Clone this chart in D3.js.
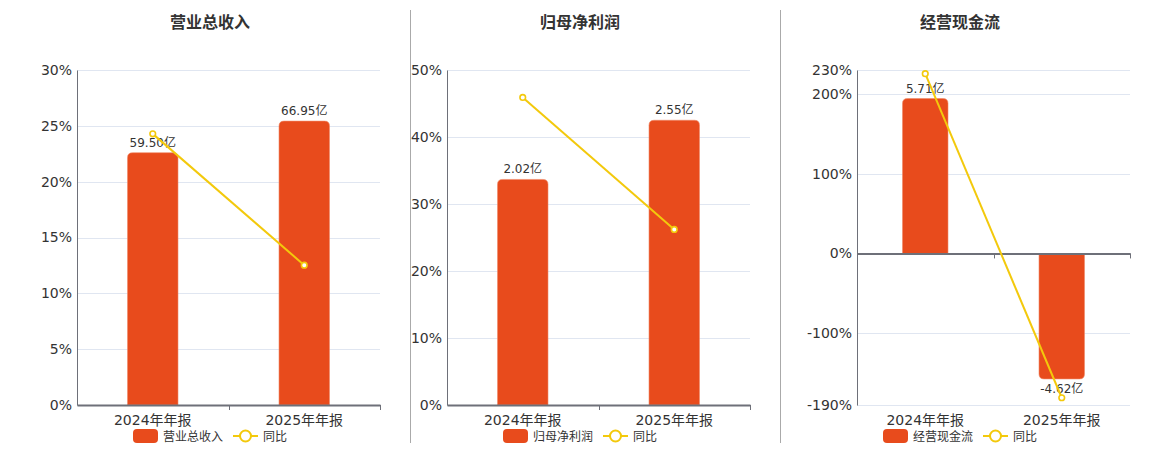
<!DOCTYPE html>
<html>
<head>
<meta charset="utf-8">
<script src="https://cdn.jsdelivr.net/npm/d3@7"></script>
<style>
  body { margin: 0; background: #fff; }
  svg { display: block; font-family: "DejaVu Sans", "Noto Sans CJK SC", sans-serif; }
</style>
</head>
<body>
<svg id="chart" width="1160" height="450"></svg>
<script>
var periods = ["2024年年报", "2025年年报"];

var titles = ["营业总收入", "归母净利润", "经营现金流"];

var revenue = [59.50, 66.95];
var revenueYoy = [24.28, 12.52];

var netProfit = [2.02, 2.55];
var netProfitYoy = [45.9, 26.2];

var cashFlow = [5.71, -4.62];
var cashFlowYoy = [225.4, -180.9];

var revenueTicks = [0, 5, 10, 15, 20, 25, 30];
var netProfitTicks = [0, 10, 20, 30, 40, 50];
var cashFlowTicks = [-190, -100, 0, 100, 200, 230];

var barColor = "#e84b1c";
var lineColor = "#f3c90c";
var gridColor = "#e0e6f1";
var axisColor = "#6e7079";
var textColor = "#333";

var svg = d3.select("#chart");

// panel layout: plot box, centre of title/legend, hidden bar axis domain
var panels = [
  {title: titles[0], bars: revenue, yoy: revenueYoy, ticks: revenueTicks,
   left: 77, right: 380, mid: 210, barDomain: [0, 79]},
  {title: titles[1], bars: netProfit, yoy: netProfitYoy, ticks: netProfitTicks,
   left: 447, right: 750, mid: 580, barDomain: [0, 3]},
  {title: titles[2], bars: cashFlow, yoy: cashFlowYoy, ticks: cashFlowTicks,
   left: 857, right: 1130, mid: 960, barDomain: [-5.58, 6.76]}
];
var plotTop = 70, plotBottom = 405;

// dividers between the panels
[410.5, 780.5].forEach(function(x) {
  svg.append("line")
    .attr("x1", x).attr("x2", x).attr("y1", 10).attr("y2", 443)
    .style("stroke", "#aaa").style("stroke-width", 1);
});

function barPath(x0, w, y0, y1, r) {
  // rounded corners at the value end only
  var up = y1 < y0;
  var h = Math.abs(y1 - y0);
  r = Math.min(r, h, w / 2);
  if (up) {
    return "M" + x0 + "," + y0 + "V" + (y1 + r) +
      "Q" + x0 + "," + y1 + " " + (x0 + r) + "," + y1 +
      "H" + (x0 + w - r) +
      "Q" + (x0 + w) + "," + y1 + " " + (x0 + w) + "," + (y1 + r) +
      "V" + y0 + "Z";
  }
  return "M" + x0 + "," + y0 + "V" + (y1 - r) +
    "Q" + x0 + "," + y1 + " " + (x0 + r) + "," + y1 +
    "H" + (x0 + w - r) +
    "Q" + (x0 + w) + "," + y1 + " " + (x0 + w) + "," + (y1 - r) +
    "V" + y0 + "Z";
}

panels.forEach(function(p) {
  var g = svg.append("g");

  var x = d3.scaleBand().domain(periods).range([p.left, p.right]);
  var yPct = d3.scaleLinear()
    .domain([d3.min(p.ticks), d3.max(p.ticks)])
    .range([plotBottom, plotTop]);
  var yBar = d3.scaleLinear().domain(p.barDomain).range([plotBottom, plotTop]);

  var minT = d3.min(p.ticks);
  var zeroY = minT < 0 ? yPct(0) : plotBottom;

  g.append("text")
    .attr("x", p.mid).attr("y", 28)
    .attr("text-anchor", "middle")
    .style("font-size", "16px").style("font-weight", "bold")
    .style("fill", textColor)
    .text(p.title);

  // grid lines
  g.selectAll(".grid").data(p.ticks).enter().append("line")
    .attr("x1", p.left).attr("x2", p.right)
    .attr("y1", function(d) { return Math.round(yPct(d)) + 0.5; })
    .attr("y2", function(d) { return Math.round(yPct(d)) + 0.5; })
    .style("stroke", gridColor).style("stroke-width", 1);

  // y axis
  var yAxis = d3.axisLeft(yPct).tickValues(p.ticks)
    .tickFormat(function(d) { return d + "%"; })
    .tickSize(0).tickPadding(5);
  var ya = g.append("g").attr("transform", "translate(" + p.left + ",0)").call(yAxis);
  ya.select(".domain").style("stroke", axisColor);
  ya.selectAll("text").style("font-size", "14px").style("fill", textColor)
    .style("font-family", "DejaVu Sans, Noto Sans CJK SC");

  // bars
  var bw = x.bandwidth() / 3;
  g.selectAll(".bar").data(p.bars).enter().append("path")
    .attr("d", function(d, i) {
      var cx = x(periods[i]) + x.bandwidth() / 2;
      return barPath(cx - bw / 2, bw, yBar(0), yBar(d), 5);
    })
    .style("fill", barColor)
    .style("stroke", "#f08a68").style("stroke-width", 0.6);

  // bar labels
  g.selectAll(".lbl").data(p.bars).enter().append("text")
    .attr("x", function(d, i) { return x(periods[i]) + x.bandwidth() / 2; })
    .attr("y", function(d) { return d >= 0 ? yBar(d) - 6 : yBar(d) + 14; })
    .attr("text-anchor", "middle")
    .style("font-size", "12px").style("fill", textColor)
    .text(function(d) { return d.toFixed(2) + "亿"; });

  // x axis
  var xAxis = d3.axisBottom(x).tickSize(0).tickPadding(0).tickFormat("");
  var xa = g.append("g").attr("transform", "translate(0," + zeroY + ")").call(xAxis);
  xa.select(".domain").style("stroke", axisColor).style("stroke-width", 2);
  xa.selectAll(".tick").remove();
  // ticks at band boundaries
  var edges = periods.map(function(c) { return x(c); }).concat([p.right]).slice(1);
  g.selectAll(".xt").data(edges).enter().append("line")
    .attr("x1", function(d) { return Math.round(d) + 0.5; })
    .attr("x2", function(d) { return Math.round(d) + 0.5; })
    .attr("y1", zeroY).attr("y2", zeroY + 5)
    .style("stroke", axisColor);

  g.selectAll(".xl").data(periods).enter().append("text")
    .attr("x", function(d) { return x(d) + x.bandwidth() / 2; })
    .attr("y", 425)
    .attr("text-anchor", "middle")
    .style("font-size", "14px").style("fill", textColor)
    .text(function(d) { return d; });

  // yoy line
  var line = d3.line()
    .x(function(d, i) { return x(periods[i]) + x.bandwidth() / 2; })
    .y(function(d) { return yPct(d); });
  g.append("path").datum(p.yoy)
    .attr("d", line)
    .style("fill", "none").style("stroke", lineColor).style("stroke-width", 2);
  g.selectAll(".pt").data(p.yoy).enter().append("circle")
    .attr("cx", function(d, i) { return x(periods[i]) + x.bandwidth() / 2; })
    .attr("cy", function(d) { return yPct(d); })
    .attr("r", 2.8)
    .style("fill", "#fff").style("stroke", lineColor).style("stroke-width", 1.6);

  // legend
  var lg = g.append("g").attr("transform", "translate(" + (p.mid - 77) + ",436)");
  lg.append("rect")
    .attr("x", 0).attr("y", -7).attr("width", 25).attr("height", 14).attr("rx", 4)
    .style("fill", barColor);
  lg.append("text")
    .attr("x", 30).attr("y", 4.5)
    .style("font-size", "12px").style("fill", textColor)
    .text(p.title);
  lg.append("line")
    .attr("x1", 100).attr("x2", 125).attr("y1", 0).attr("y2", 0)
    .style("stroke", lineColor).style("stroke-width", 2);
  lg.append("circle")
    .attr("cx", 112.5).attr("cy", 0).attr("r", 5.5)
    .style("fill", "#fff").style("stroke", lineColor).style("stroke-width", 2);
  lg.append("text")
    .attr("x", 130).attr("y", 4.5)
    .style("font-size", "12px").style("fill", textColor)
    .text("同比");
});
</script>
</body>
</html>
